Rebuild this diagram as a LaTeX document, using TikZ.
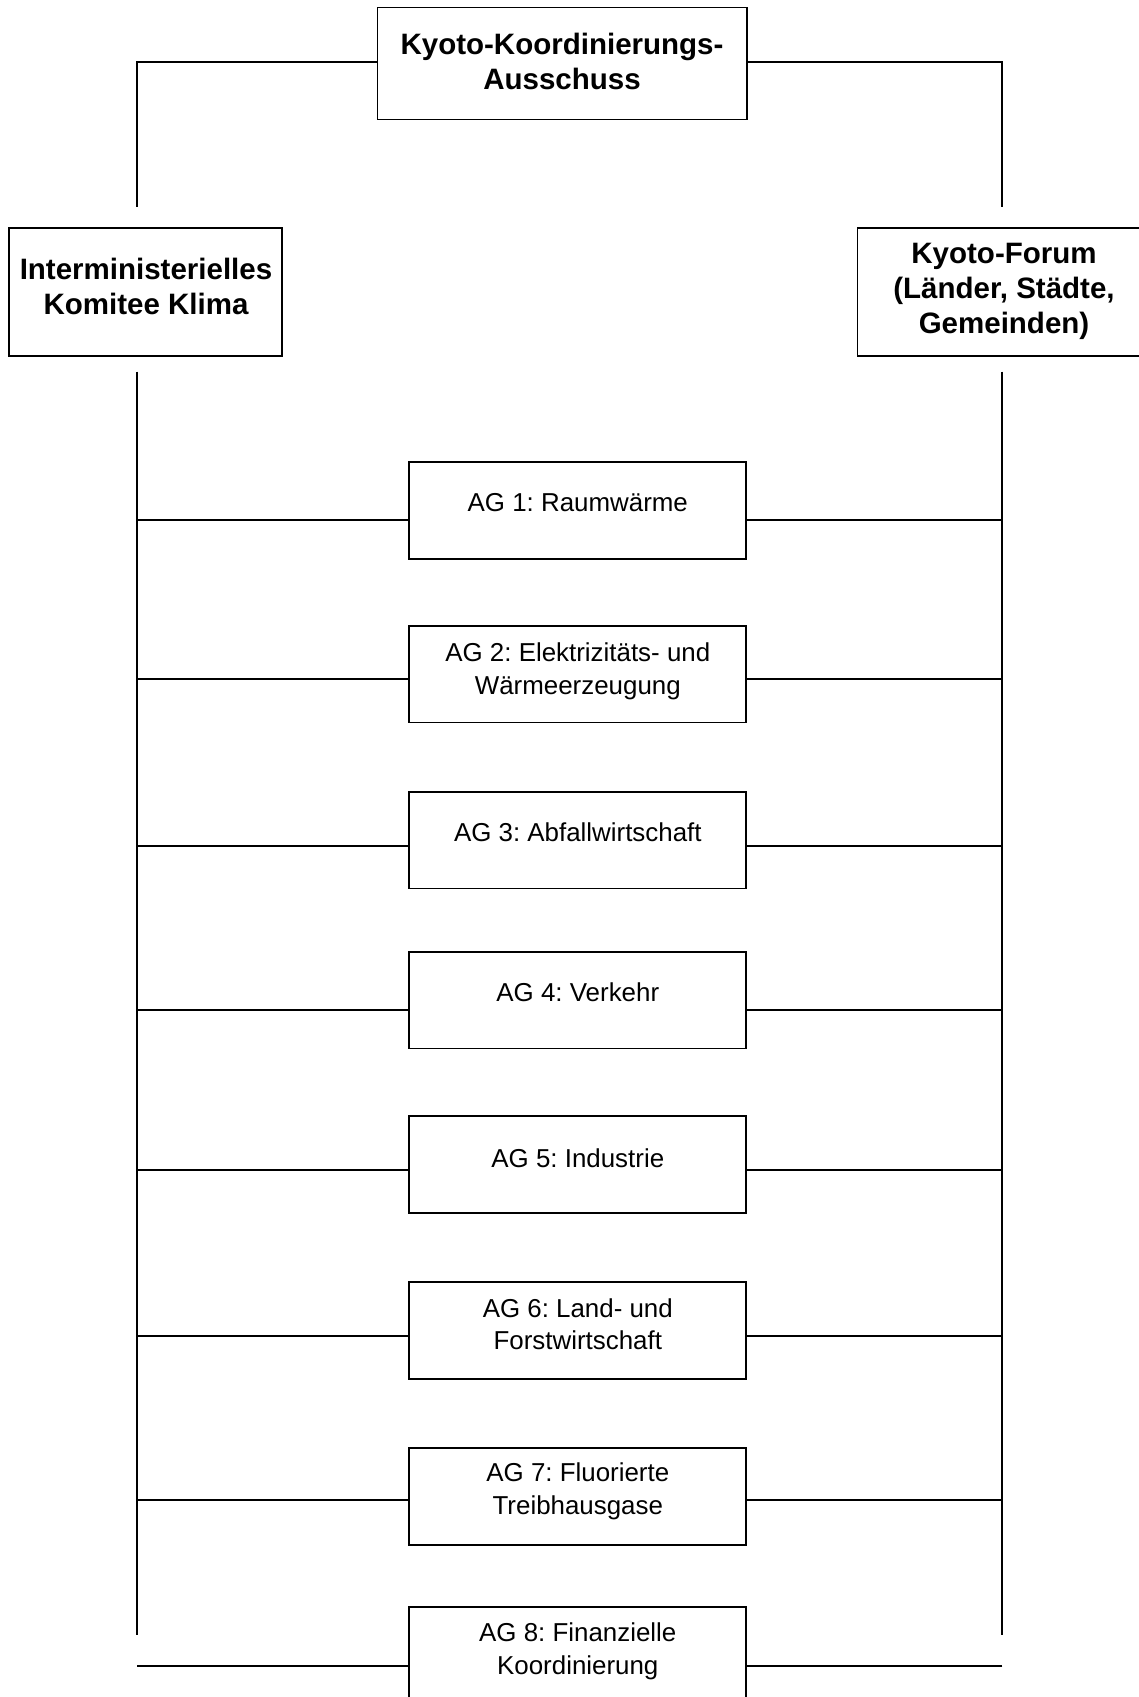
\documentclass[tikz,border=0pt]{standalone}
\usepackage{fontspec}
\setmainfont{Liberation Sans}
\usetikzlibrary{calc}
\frenchspacing
\tikzset{
  box/.style={draw=black, line width=1.7pt, inner sep=0pt, rectangle},
  agbox/.style={box, minimum width=337pt, minimum height=96.7pt},
  conn/.style={draw=black, line width=1.7pt},
  agtext/.style={inner sep=0pt, anchor=base, font=\fontsize{25.9}{32.5}\selectfont},
  bigtext/.style={inner sep=0pt, anchor=base, font=\fontsize{29.5}{35}\selectfont\bfseries},
}
\newcommand{\mytext}[1]{\parbox[t]{420pt}{\centering\frenchspacing #1}}
\begin{document}
\begin{tikzpicture}[x=1pt,y=-1pt]
\useasboundingbox (0,0) rectangle (1139,1697);
% top level boxes
\node[box, minimum width=369.3pt, minimum height=112pt] (kk) at (562,63.4) {};
\node[bigtext] (kkt) at (562,54.5) {\mytext{Kyoto-Koordinierungs-\\Ausschuss}};
\node[box, minimum width=272.7pt, minimum height=127.4pt] (ikk) at (145.3,292) {};
\node[bigtext] (ikkt) at (146,279) {\mytext{Interministerielles\\Komitee Klima}};
\node[box, minimum width=291.7pt, minimum height=127.4pt] (kf) at (1003.2,292) {};
\node[bigtext] (kft) at (1004,263.5) {\mytext{Kyoto-Forum\\(Länder, Städte,\\Gemeinden)}};
% top connectors
\coordinate (TL) at (137.3,61.7);
\coordinate (TLend) at (137.3,206.7);
\coordinate (TR) at (1002.3,61.7);
\coordinate (TRend) at (1002.3,206.7);
\draw[conn] (TL -| kk.west) -- (TL) -- (TLend);
\draw[conn] (TR -| kk.east) -- (TR) -- (TRend);
% spines
\coordinate (LS) at (137.3,371.7);
\coordinate (LE) at (137.3,1635);
\coordinate (RS) at (1002.3,371.7);
\coordinate (RE) at (1002.3,1635);
\draw[conn] (LS) -- (LE);
\draw[conn] (RS) -- (RE);
% working group boxes and connectors
\foreach \i/\tp/\ly in {1/462.3/520, 2/625.7/679.3, 3/791.7/846, 4/951.7/1010,
                       5/1116/1170, 6/1282.3/1336, 7/1448.3/1500, 8/1606.7/1665.7}{
  \node[agbox] (ag\i) at (577.8,\tp+48.35) {};
  \coordinate (l\i) at (137.3,\ly);
  \coordinate (r\i) at (1002.3,\ly);
  \draw[conn] (l\i) -- (l\i -| ag\i.west);
  \draw[conn] (r\i) -- (r\i -| ag\i.east);
}
% texts
\node[agtext] (ag1t) at (577.8,511.7) {\mytext{AG 1: Raumwärme}};
\node[agtext] (ag2t) at (577.8,661.7) {\mytext{AG 2: Elektrizitäts- und\\Wärmeerzeugung}};
\node[agtext] (ag3t) at (577.8,841.7) {\mytext{AG 3: Abfallwirtschaft}};
\node[agtext] (ag4t) at (577.8,1001.7) {\mytext{AG 4: Verkehr}};
\node[agtext] (ag5t) at (577.8,1167.7) {\mytext{AG 5: Industrie}};
\node[agtext] (ag6t) at (577.8,1317.3) {\mytext{AG 6: Land- und\\Forstwirtschaft}};
\node[agtext] (ag7t) at (577.8,1481.7) {\mytext{AG 7: Fluorierte\\Treibhausgase}};
\node[agtext] (ag8t) at (577.8,1641.5) {\mytext{AG 8: Finanzielle\\Koordinierung}};
\end{tikzpicture}
\end{document}
